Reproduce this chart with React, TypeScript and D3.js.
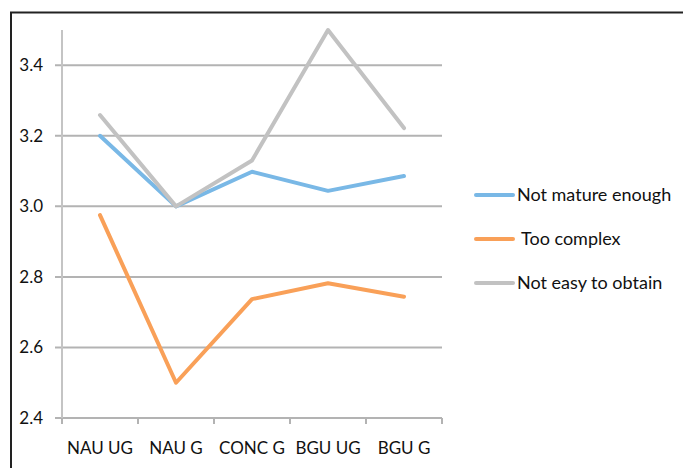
import React, { useEffect, useRef } from 'react';
import * as d3 from 'd3';

const categories = ['NAU UG', 'NAU G', 'CONC G', 'BGU UG', 'BGU G'];
const notMature = [3.2, 3.0, 3.098, 3.044, 3.086];
const tooComplex = [2.975, 2.5, 2.737, 2.782, 2.744];
const notEasy = [3.259, 3.0, 3.13, 3.5, 3.222];
const yTicks = [2.4, 2.6, 2.8, 3.0, 3.2, 3.4];

const seriesList = [
  { name: 'Not mature enough', values: notMature, color: '#79b8e6' },
  { name: 'Too complex', values: tooComplex, color: '#f9a058' },
  { name: 'Not easy to obtain', values: notEasy, color: '#c2c2c2' },
];

const App = () => {
  const svgRef = useRef(null);

  useEffect(() => {
    const svg = d3.select(svgRef.current);
    svg.selectAll('*').remove();

    const font = 'Lato, "Open Sans", sans-serif';

    // outer frame
    svg.append('path')
      .attr('d', 'M11,470 L11,12.5 L690,12.5')
      .attr('fill', 'none')
      .attr('stroke', '#222')
      .attr('stroke-width', 2);

    const x = d3.scaleBand().domain(categories).range([62, 442]);
    const y = d3.scaleLinear().domain([2.4, 3.5]).range([418, 30]);

    // gridlines
    svg.append('g')
      .selectAll('line')
      .data(yTicks)
      .enter()
      .append('line')
      .attr('x1', 55)
      .attr('x2', 442)
      .attr('y1', d => y(d))
      .attr('y2', d => y(d))
      .attr('stroke', '#b3b3b3')
      .attr('stroke-width', 2);

    // y axis line
    svg.append('line')
      .attr('x1', 62).attr('x2', 62)
      .attr('y1', y(3.5)).attr('y2', y(2.4))
      .attr('stroke', '#c4c4c4')
      .attr('stroke-width', 2);

    // x tick marks
    const tickXs = categories.map(c => x(c)).concat([x.range()[1]]);
    svg.append('g')
      .selectAll('line')
      .data(tickXs)
      .enter()
      .append('line')
      .attr('x1', d => d).attr('x2', d => d)
      .attr('y1', y(2.4)).attr('y2', y(2.4) + 6)
      .attr('stroke', '#b3b3b3')
      .attr('stroke-width', 2);

    // y labels
    svg.append('g')
      .selectAll('text')
      .data(yTicks)
      .enter()
      .append('text')
      .attr('x', 43)
      .attr('y', d => y(d))
      .attr('dy', '0.35em')
      .attr('text-anchor', 'end')
      .style('font-family', font)
      .style('font-size', '17px')
      .attr('fill', '#111')
      .text(d => d.toFixed(1));

    // x labels
    svg.append('g')
      .selectAll('text')
      .data(categories)
      .enter()
      .append('text')
      .attr('x', d => x(d) + x.bandwidth() / 2)
      .attr('y', 448)
      .attr('dy', '0.35em')
      .attr('text-anchor', 'middle')
      .style('font-family', font)
      .style('font-size', '17px')
      .attr('fill', '#111')
      .text(d => d);

    const line = d3.line()
      .x((d, i) => x(categories[i]) + x.bandwidth() / 2)
      .y(d => y(d));

    // draw gray last so it sits on top like the original
    [seriesList[1], seriesList[0], seriesList[2]].forEach(s => {
      svg.append('path')
        .datum(s.values)
        .attr('fill', 'none')
        .attr('stroke', s.color)
        .attr('stroke-width', 4)
        .attr('stroke-linejoin', 'round')
        .attr('stroke-linecap', 'round')
        .attr('d', line);
    });

    // legend
    const legend = svg.append('g');
    seriesList.forEach((s, i) => {
      const ly = 195 + i * 44;
      legend.append('line')
        .attr('x1', 476).attr('x2', 513)
        .attr('y1', ly).attr('y2', ly)
        .attr('stroke', s.color)
        .attr('stroke-width', 4)
        .attr('stroke-linecap', 'round');
      legend.append('text')
        .attr('x', i === 1 ? 521 : 517)
        .attr('y', ly)
        .attr('dy', '0.35em')
        .style('font-family', font)
        .style('font-size', '18px')
        .attr('fill', '#111')
        .text(s.name);
    });
  }, []);

  return (
    <svg
      ref={svgRef}
      width={683}
      height={468}
      style={{ position: 'absolute', left: 0, top: 0, background: '#fff' }}
    />
  );
};

export default App;
